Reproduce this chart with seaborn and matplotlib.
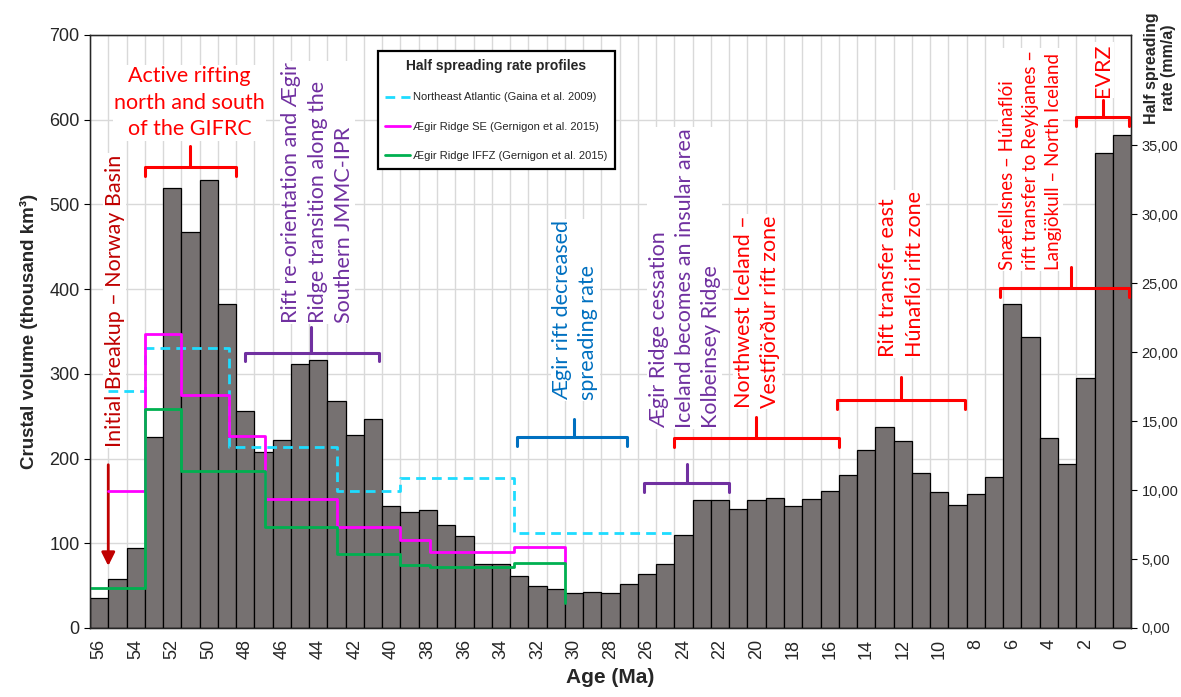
import numpy as np
import pandas as pd
import matplotlib
matplotlib.use("Agg")
import matplotlib.pyplot as plt
from matplotlib.ticker import FixedLocator, FuncFormatter
import seaborn as sns

sns.set_style("white")
plt.rcParams['font.family'] = ['Liberation Sans', 'DejaVu Sans']

# ---------------------------------------------------------------
# Data
# ---------------------------------------------------------------
ages = list(range(56, -1, -1))  # Ma, one bar per Ma
volumes = [35, 58, 94, 225, 519, 467, 529, 382, 256, 208, 222, 312, 316, 268, 228, 247,
           144, 137, 139, 121, 109, 76, 75, 61, 50, 46, 41, 43, 41, 52, 64, 76, 110, 151,
           151, 141, 151, 154, 144, 152, 162, 181, 210, 237, 221, 183, 161, 145, 158, 178,
           382, 344, 224, 193, 295, 561, 582]  # thousand km3

# half spreading rate profiles (mm/a): step edges in Ma, one rate per interval
nea_edges = [55.5, 53.5, 48.9, 43.0, 39.5, 33.3, 24.7]
nea_rate = [17.2, 20.3, 13.1, 9.9, 10.9, 6.9]
se_edges = [55.5, 53.5, 51.5, 48.9, 46.9, 43.0, 39.5, 37.9, 33.3, 30.5]
se_rate = [9.9, 21.3, 16.9, 13.9, 9.35, 7.3, 6.4, 5.5, 5.9]
se_end = 4.7
iffz_edges = [56.5, 53.5, 51.5, 46.9, 43.0, 39.5, 37.9, 33.3, 30.5]
iffz_rate = [2.9, 15.9, 11.4, 7.3, 5.4, 4.6, 4.4, 4.7]
iffz_end = 1.8

RED = '#FF0000'
DARKRED = '#C00000'
PURPLE = '#7030A0'
BLUE = '#0070C0'
GRID = '#D9D9D9'
NOTE_FONT = ['Lato', 'DejaVu Sans']


def pos(age):
    # bar k (k = 0 at 56 Ma) sits at x = k
    return 56 - np.asarray(age, dtype=float)


def step_xy(edges, rates, end=None):
    x = list(pos(edges))
    y = list(rates) + [rates[-1]]
    if end is not None:
        x.append(x[-1])
        y.append(end)
    return x, y


df = pd.DataFrame({'age': [str(a) for a in ages], 'volume': volumes})

fig = plt.figure(figsize=(11.81, 6.97), dpi=100)
ax = fig.add_axes([0.0762, 0.099, 0.8815, 0.8508])

sns.barplot(data=df, x='age', y='volume', order=[str(a) for a in ages], ax=ax,
            color='#767171', saturation=1, width=1.0, edgecolor='black', linewidth=0.9)

ax.set_xlim(-0.5, 56.5)
ax.set_ylim(0, 700)
ax.set_yticks(range(0, 701, 100))
ax.set_xticks(range(0, 57, 2))
ax.set_xticklabels([str(a) for a in ages[::2]], rotation=90, fontsize=13)
ax.xaxis.set_minor_locator(FixedLocator(np.arange(-0.5, 57, 1)))
ax.tick_params(axis='x', which='major', length=0, pad=8)
ax.tick_params(axis='x', which='minor', length=3, color='black')
ax.tick_params(axis='y', labelsize=13, length=4, color='black', direction='out', left=True)
ax.set_axisbelow(True)
ax.grid(axis='y', which='major', color=GRID, lw=1)
ax.grid(axis='x', which='minor', color=GRID, lw=1)
ax.grid(axis='x', which='major', visible=False)
for s in ax.spines.values():
    s.set_color('black')
    s.set_linewidth(1.0)
ax.set_xlabel('Age (Ma)', fontsize=15, fontweight='bold', labelpad=6)
ax.set_ylabel('Crustal volume (thousand km³)', fontsize=13.5, fontweight='bold', labelpad=8)

# ---------------------------------------------------------------
# Annotations (brackets + labels), in left-axis data units
# ---------------------------------------------------------------
def bracket(x0, x1, y, xm, color, hook=10, tick=25):
    ax.plot([x0, x0, x1, x1], [y - hook, y, y, y - hook], color=color, lw=2.2,
            solid_joinstyle='round', solid_capstyle='round', zorder=4, clip_on=False)
    ax.plot([xm, xm], [y, y + tick], color=color, lw=2.2, zorder=4, clip_on=False)


def vnote(x, y, s, color, size=15.5, spacing=1.38):
    ax.text(x, y, s, rotation=90, ha='center', va='bottom', multialignment='left',
            color=color, fontsize=size, family=NOTE_FONT, linespacing=spacing,
            bbox=dict(facecolor='white', edgecolor='none', pad=1), zorder=3)


vnote(0.85, 214, 'Initial Breakup – Norway Basin', DARKRED)
ax.annotate('', xy=(0.5, 70), xytext=(0.5, 196),
            arrowprops=dict(arrowstyle='-|>', color=DARKRED, lw=2, mutation_scale=20), zorder=4)

ax.text(4.95, 620, 'Active rifting\nnorth and south\nof the GIFRC', ha='center', va='center',
        color=RED, fontsize=15.5, family=NOTE_FONT, linespacing=1.42,
        bbox=dict(facecolor='white', edgecolor='none', pad=1), zorder=3)
bracket(2.5, 7.5, 544, 4.95, RED)

vnote(11.96, 360, 'Rift re-orientation and Ægir\nRidge transition along the\nSouthern JMMC-IPR', PURPLE)
bracket(8.0, 15.3, 325, 11.6, PURPLE, tick=30)

vnote(26.08, 269, 'Ægir rift decreased\nspreading rate', BLUE)
bracket(22.9, 28.9, 225, 26.0, BLUE, tick=22)

vnote(32.06, 236, 'Ægir Ridge cessation\nIceland becomes an insular area\nKolbeinsey Ridge', PURPLE)
bracket(29.86, 34.5, 171, 32.2, PURPLE, tick=22)

vnote(36.04, 260, 'Northwest Iceland –\nVestfjörður rift zone', RED)
bracket(31.5, 40.5, 224, 35.97, RED)

vnote(43.93, 320, 'Rift transfer east\nHúnaflói rift zone', RED)
bracket(40.4, 47.4, 269, 43.93, RED, tick=27)

vnote(51.0, 423, 'Snæfellsnes – Húnaflói\nrift transfer to Reykjanes –\nLangjökull – North Iceland', RED,
      size=13.5, spacing=1.4)
bracket(49.3, 56.4, 401, 53.2, RED)

vnote(54.94, 627, 'EVRZ', RED)
bracket(53.5, 56.4, 603, 54.94, RED, tick=20)

# ---------------------------------------------------------------
# Half spreading rate on the right axis
# ---------------------------------------------------------------
ax2 = ax.twinx()
x, y = step_xy(nea_edges, nea_rate)
ax2.step(x, y, where='post', color='#1EDCFF', lw=2, ls=(0, (3.5, 2.2)),
         label='Northeast Atlantic (Gaina et al. 2009)')
x, y = step_xy(se_edges, se_rate, se_end)
ax2.step(x, y, where='post', color='#FF00FF', lw=2,
         label='Ægir Ridge SE (Gernigon et al. 2015)')
x, y = step_xy(iffz_edges, iffz_rate, iffz_end)
ax2.step(x, y, where='post', color='#00B050', lw=2,
         label='Ægir Ridge IFFZ (Gernigon et al. 2015)')

ax2.set_ylim(0, 43)
ax2.set_yticks(range(0, 36, 5))
ax2.yaxis.set_major_formatter(FuncFormatter(lambda v, _: f'{v:.2f}'.replace('.', ',')))
ax2.tick_params(axis='y', labelsize=10.5, length=4, color='black', direction='out', right=True)
ax2.grid(False)
ax2.text(1.028, 0.944, 'Half spreading\nrate (mm/a)', transform=ax2.transAxes, rotation=90,
         ha='center', va='center', multialignment='center', fontsize=11.5, fontweight='bold',
         clip_on=False)

leg = ax2.legend(loc='upper left', bbox_to_anchor=(0.271, 0.982), fontsize=8,
                 title='Half spreading rate profiles', title_fontproperties={'weight': 'bold', 'size': 10},
                 frameon=True, fancybox=False, edgecolor='black', framealpha=1,
                 labelspacing=1.75, handlelength=2.2, handletextpad=0.3, borderpad=0.7)
leg.get_frame().set_linewidth(1.6)

fig.savefig('out.png', dpi=100, facecolor='white')
